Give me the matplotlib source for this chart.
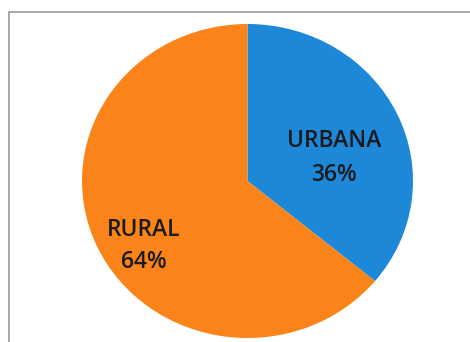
import matplotlib
matplotlib.use("Agg")
import matplotlib.pyplot as plt
from matplotlib.patches import Rectangle

labels = ["URBANA", "RURAL"]
shares = [36, 64]
colors = ["#1e88d8", "#fa8419"]

fig = plt.figure(figsize=(4.7, 3.42), dpi=100)
fig.patch.set_facecolor("white")

# thin gray frame, only top and left edges show
fig.add_artist(Rectangle((9 / 470, -0.1), 1.2, 1 - 12 / 342 + 0.1,
                         transform=fig.transFigure, fill=False,
                         edgecolor="#9a9a9a", linewidth=1.2))

ax = fig.add_axes([82 / 470, 4 / 342, 331 / 470, 314 / 342])
ax.pie(shares, colors=colors, startangle=90, counterclock=False,
       wedgeprops=dict(linewidth=0))
ax.set_aspect("auto")
ax.set_xlim(-1, 1)
ax.set_ylim(-1, 1)

font = dict(family="Open Sans", fontsize=16.5, fontweight="semibold",
            color="#1a1a1a", ha="center", va="center_baseline")
ax.text(0.523, 0.274, labels[0], **font)
ax.text(0.523, 0.06, f"{shares[0]}%", **font)
ax.text(-0.628, -0.296, labels[1], **font)
ax.text(-0.628, -0.497, f"{shares[1]}%", **font)

fig.savefig("out.png", dpi=100)
